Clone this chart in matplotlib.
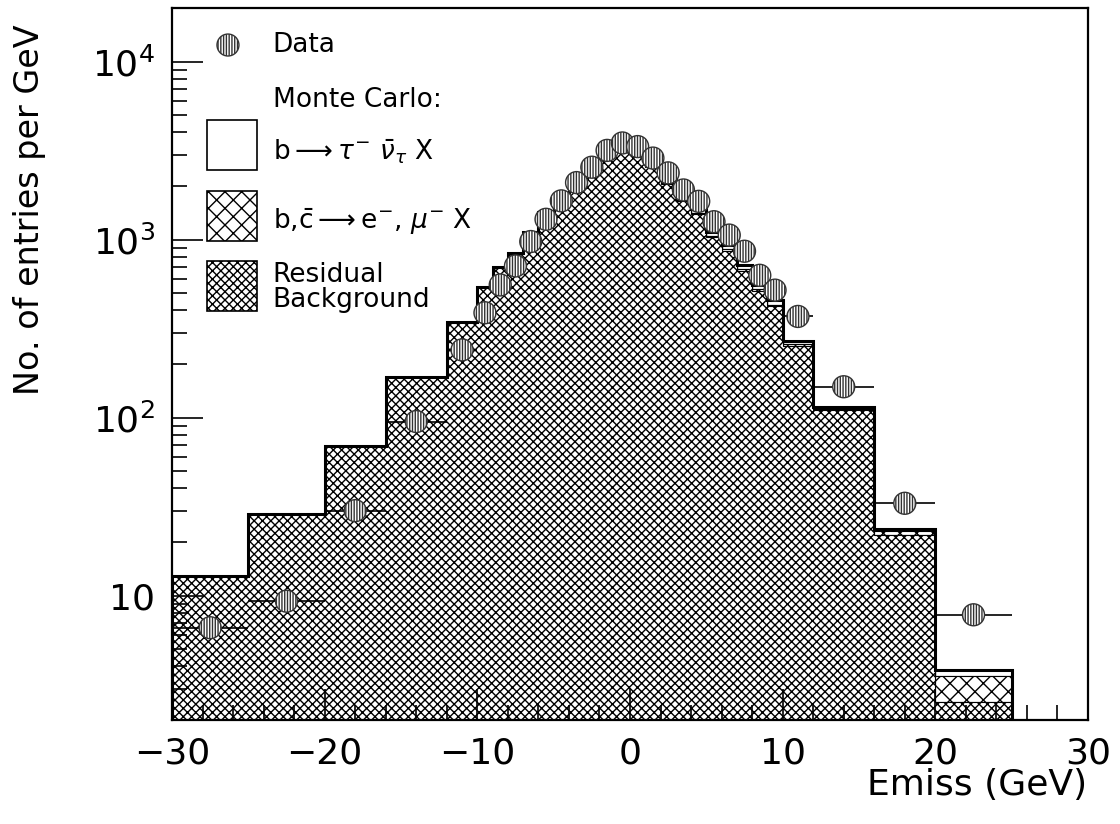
import numpy as np
import matplotlib
matplotlib.use("Agg")
import matplotlib.pyplot as plt
from matplotlib.patches import Rectangle
from matplotlib.ticker import FixedLocator, FixedFormatter, LogLocator, MultipleLocator, NullFormatter

plt.rcParams['font.family'] = ['DejaVu Sans']
plt.rcParams['mathtext.fontset'] = 'dejavusans'
plt.rcParams['hatch.linewidth'] = 1.0

# bin edges (GeV), variable width
edges = [-30, -25, -20, -16, -12, -10, -9, -8, -7, -6, -5, -4, -3, -2, -1,
         0, 1, 2, 3, 4, 5, 6, 7, 8, 9, 10, 12, 16, 20, 25, 30]

# MC components, entries per GeV
mc_total = [12.9, 28.6, 69, 169, 344, 545, 705, 845, 1100, 1420, 1800, 2250, 2600, 3050, 3250,
            3200, 2700, 2170, 1750, 1490, 1110, 930, 720, 555, 455, 270, 115, 23.8, 3.84, 0]
mc_tau = [0, 0, 0, 0, 0, 0, 0, 0, 0, 0, 0, 0, 10, 20, 50,
          90, 100, 95, 85, 75, 60, 50, 40, 30, 25, 12, 3, 0.8, 0.3, 0]
mc_emu = [0, 0, 0, 0, 0, 0, 0, 0, 0, 0, 0, 0, 5, 10, 20,
          30, 30, 28, 25, 22, 18, 15, 12, 10, 8, 5, 2, 1.2, 1.0, 0]

# data points
data_x = [-27.5, -22.5, -18, -14, -11, -9.5, -8.5, -7.5, -6.5, -5.5, -4.5, -3.5, -2.5, -1.5, -0.5,
          0.5, 1.5, 2.5, 3.5, 4.5, 5.5, 6.5, 7.5, 8.5, 9.5, 11, 14, 18, 22.5]
data_xerr = [2.5, 2.5, 2, 2, 1, 0.5, 0.5, 0.5, 0.5, 0.5, 0.5, 0.5, 0.5, 0.5, 0.5,
             0.5, 0.5, 0.5, 0.5, 0.5, 0.5, 0.5, 0.5, 0.5, 0.5, 1, 2, 2, 2.5]
data_y = [6.6, 9.3, 30, 95, 240, 388, 556, 711, 975, 1300, 1650, 2090, 2550, 3170, 3490,
          3330, 2870, 2370, 1900, 1640, 1260, 1060, 860, 630, 520, 370, 149, 33, 7.8]

edges = np.array(edges, dtype=float)
mc_total = np.array(mc_total)
mc_tau = np.array(mc_tau)
mc_emu = np.array(mc_emu)
mc_res = mc_total - mc_tau - mc_emu

fig = plt.figure(figsize=(11.2, 8.24), dpi=100)
ax = fig.add_axes([172/1120, 1 - 720/824, 916/1120, 712/824])
ax.set_yscale('log')
ax.set_xlim(-30, 30)
ax.set_ylim(2, 2e4)

nz = mc_total > 0
lay1 = np.where(nz, mc_res, 0.5)
lay2 = np.where(nz, mc_res + mc_emu, 0.5)
lay3 = np.where(nz, mc_res + mc_emu + mc_tau, 0.5)

# stacked histogram: residual (fine hatch), e/mu (coarse hatch), tau (white)
ax.stairs(lay3, edges, baseline=lay2, fill=True,
          facecolor='white', edgecolor='black', lw=0.8)
ax.stairs(lay2, edges, baseline=lay1, fill=True,
          facecolor='white', edgecolor='black', hatch='xx', lw=0.8)
ax.stairs(lay1, edges, baseline=0.5, fill=True,
          facecolor='white', edgecolor='black', hatch='xxxx', lw=0.8)
ax.stairs(lay3, edges, baseline=0.5, color='black', lw=2.2)

# data
ax.errorbar(data_x, data_y, xerr=data_xerr, fmt='none', ecolor='black', elinewidth=1.2, zorder=4)
ax.scatter(data_x, data_y, s=250, marker='o', facecolor='white', edgecolor='#333333',
           hatch='||||||', linewidths=1.0, zorder=5)

# ticks
ax.xaxis.set_major_locator(MultipleLocator(10))
ax.xaxis.set_minor_locator(MultipleLocator(2))
ax.yaxis.set_major_locator(FixedLocator([10, 100, 1000, 10000]))
ax.yaxis.set_major_formatter(FixedFormatter(['10', r'10$^{2}$', r'10$^{3}$', r'10$^{4}$']))
ax.yaxis.set_minor_locator(LogLocator(base=10, subs=np.arange(2, 10)))
ax.yaxis.set_minor_formatter(NullFormatter())
ax.tick_params(which='both', direction='in', top=False, right=False, width=1.2, labelsize=26)
ax.tick_params(which='major', length=22)
ax.tick_params(which='minor', length=11)
ax.tick_params(axis='x', pad=12)
ax.tick_params(axis='y', pad=12)
for sp in ax.spines.values():
    sp.set_linewidth(1.6)

fig.text(30/1120, 1 - 210/824, 'No. of entries per GeV', rotation=90,
         ha='center', va='center', fontsize=24)
fig.text(1087/1120, 1 - 785/824, 'Emiss (GeV)', ha='right', va='center', fontsize=26)

# legend drawn by hand
ax.scatter([0.0611], [0.948], s=250, marker='o', facecolor='white', edgecolor='#333333',
           hatch='||||||', linewidths=1.0, transform=ax.transAxes, zorder=6, clip_on=False)
ax.text(0.110, 0.948, 'Data', transform=ax.transAxes, fontsize=19, va='center')
ax.text(0.110, 0.871, 'Monte Carlo:', transform=ax.transAxes, fontsize=19, va='center')
ax.add_patch(Rectangle((0.0382, 0.7725), 0.0546, 0.0702, transform=ax.transAxes,
                       facecolor='white', edgecolor='black', lw=1.2, zorder=6))
ax.text(0.110, 0.798, r'b$\longrightarrow\tau^{-}\ \bar{\nu}_{\tau}$ X',
        transform=ax.transAxes, fontsize=19, va='center')
ax.add_patch(Rectangle((0.0382, 0.6728), 0.0546, 0.0702, transform=ax.transAxes,
                       facecolor='white', edgecolor='black', hatch='xx', lw=1.2, zorder=6))
ax.text(0.110, 0.699, r'b,$\bar{\mathrm{c}}\longrightarrow$e$^{-}$, $\mu^{-}$ X',
        transform=ax.transAxes, fontsize=19, va='center')
ax.add_patch(Rectangle((0.0382, 0.5744), 0.0546, 0.0702, transform=ax.transAxes,
                       facecolor='white', edgecolor='black', hatch='xxxx', lw=1.2, zorder=6))
ax.text(0.110, 0.608, 'Residual\nBackground', transform=ax.transAxes, fontsize=19,
        va='center', linespacing=0.95)

fig.savefig('out.png', dpi=100)
